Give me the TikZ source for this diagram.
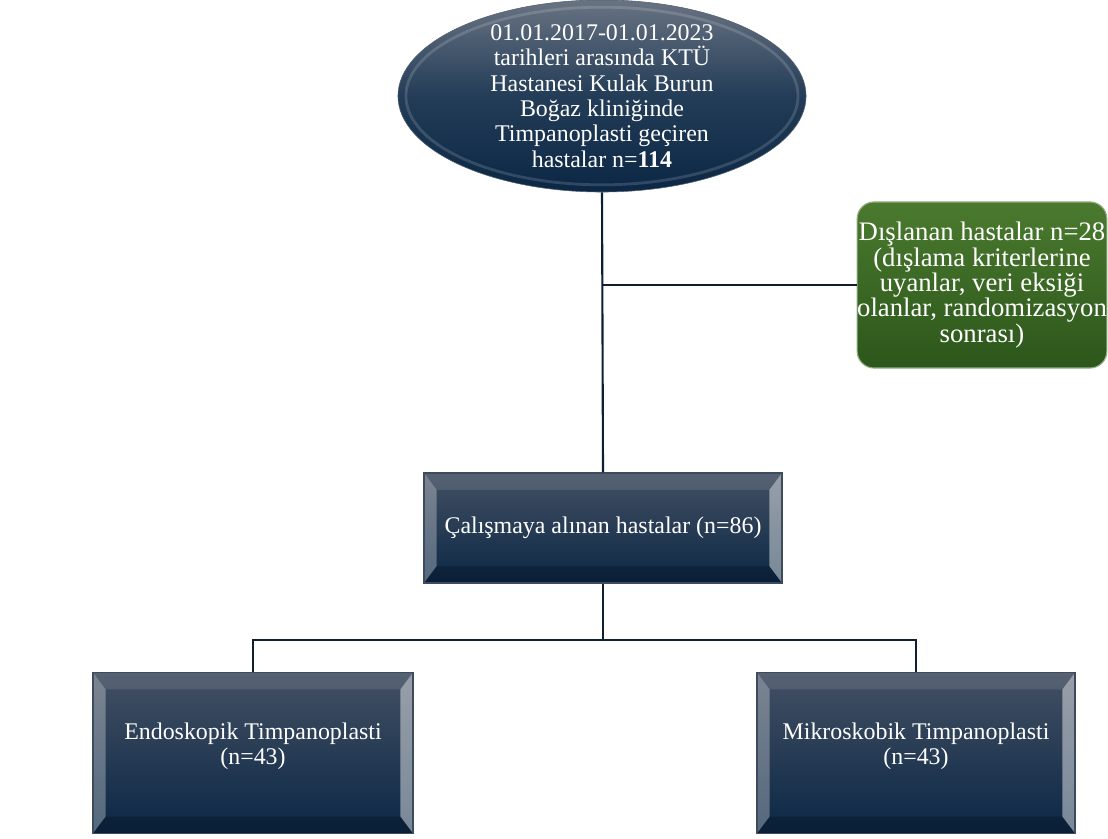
\documentclass[tikz,border=0pt]{standalone}
\usepackage{fontspec}
\setmainfont{Liberation Serif}
\usepackage{xcolor}
\usepackage{tikz}
\usetikzlibrary{shapes.geometric,positioning}

\definecolor{navytop}{HTML}{435063}
\definecolor{navybot}{HTML}{0B2745}
\definecolor{navyline}{HTML}{0E1E33}
\definecolor{greentop}{HTML}{4A7A2E}
\definecolor{greenbot}{HTML}{2C561B}

\begin{document}
\begin{tikzpicture}[x=0.025cm,y=-0.025cm]
        \tikzset{
          bevelbox/.style={rectangle,inner sep=0pt,text=white,align=center,
            top color=navytop,bottom color=navybot,draw=navyline!80,line width=0.8pt,
            font=\fontsize{17}{18}\selectfont,
            path picture={
              \fill[white,opacity=0.30] (path picture bounding box.north west)
                -- ([xshift=9pt,yshift=-12pt]path picture bounding box.north west)
                -- ([xshift=9pt,yshift=12pt]path picture bounding box.south west)
                -- (path picture bounding box.south west) -- cycle;
              \fill[white,opacity=0.45] (path picture bounding box.north east)
                -- ([xshift=-9pt,yshift=-12pt]path picture bounding box.north east)
                -- ([xshift=-9pt,yshift=12pt]path picture bounding box.south east)
                -- (path picture bounding box.south east) -- cycle;
              \fill[white,opacity=0.10] (path picture bounding box.north west)
                -- ([xshift=9pt,yshift=-12pt]path picture bounding box.north west)
                -- ([xshift=-9pt,yshift=-12pt]path picture bounding box.north east)
                -- (path picture bounding box.north east) -- cycle;
              \fill[black,opacity=0.20] (path picture bounding box.south west)
                -- ([xshift=9pt,yshift=12pt]path picture bounding box.south west)
                -- ([xshift=-9pt,yshift=12pt]path picture bounding box.south east)
                -- (path picture bounding box.south east) -- cycle;
            }},
          link/.style={draw=navyline,line width=1.5pt}
        }
        \useasboundingbox (0,0) rectangle (1108,839);

        % top
        \node[ellipse,inner sep=0pt,minimum width=10.2cm,minimum height=4.8cm,
          top color=navytop!80!white,bottom color=navybot,middle color=navybot!90!white,
          draw=navyline!70,
          path picture={\draw[white,opacity=0.15,line width=2pt]
            (path picture bounding box.center) ellipse (4.9cm and 2.22cm);}] (top) at (602,96) {};
        \node[text=white,align=center,font=\fontsize{17}{18}\selectfont] (toptext) at (top.center)
          {01.01.2017-01.01.2023\\ tarihleri arasında KTÜ\\ Hastanesi Kulak Burun\\
           Boğaz kliniğinde\\ Timpanoplasti geçiren\\ hastalar n=\textbf{114}};

        % excluded
        \node[rectangle,rounded corners=12pt,inner sep=0pt,minimum width=6.2cm,minimum height=4.15cm,
          top color=greentop,bottom color=greenbot,draw=greentop!60!white,line width=0.8pt,
          text=white,align=center,font=\fontsize{19}{18}\selectfont] (excl) at (982,285)
          {Dışlanan hastalar n=28\\ (dışlama kriterlerine\\ uyanlar, veri eksiği\\
           olanlar, randomizasyon\\ sonrası)};

        % middle
        \node[bevelbox,minimum width=8.95cm,minimum height=2.75cm] (mid) at (603,528)
          {Çalışmaya alınan hastalar (n=86)};

        % bottom row
        \node[bevelbox,minimum width=8cm,minimum height=4.02cm,text height=20pt] (endo) at (253,753)
          {Endoskopik Timpanoplasti\\ (n=43)};
        \node[bevelbox,minimum width=7.95cm,minimum height=4.02cm,text height=20pt] (mikro) at (916,753)
          {Mikroskobik Timpanoplasti\\ (n=43)};

        % lines
        \coordinate (j1) at (602,285);
        \coordinate (j2) at (603,640);
        \draw[link] (top.south) -- (mid.north);
        \draw[link] (j1) -- (excl.west);
        \draw[link] (mid.south) -- (j2);
        \draw[link] (endo.north) |- (j2) -| (mikro.north);
    \end{tikzpicture}
\end{document}
